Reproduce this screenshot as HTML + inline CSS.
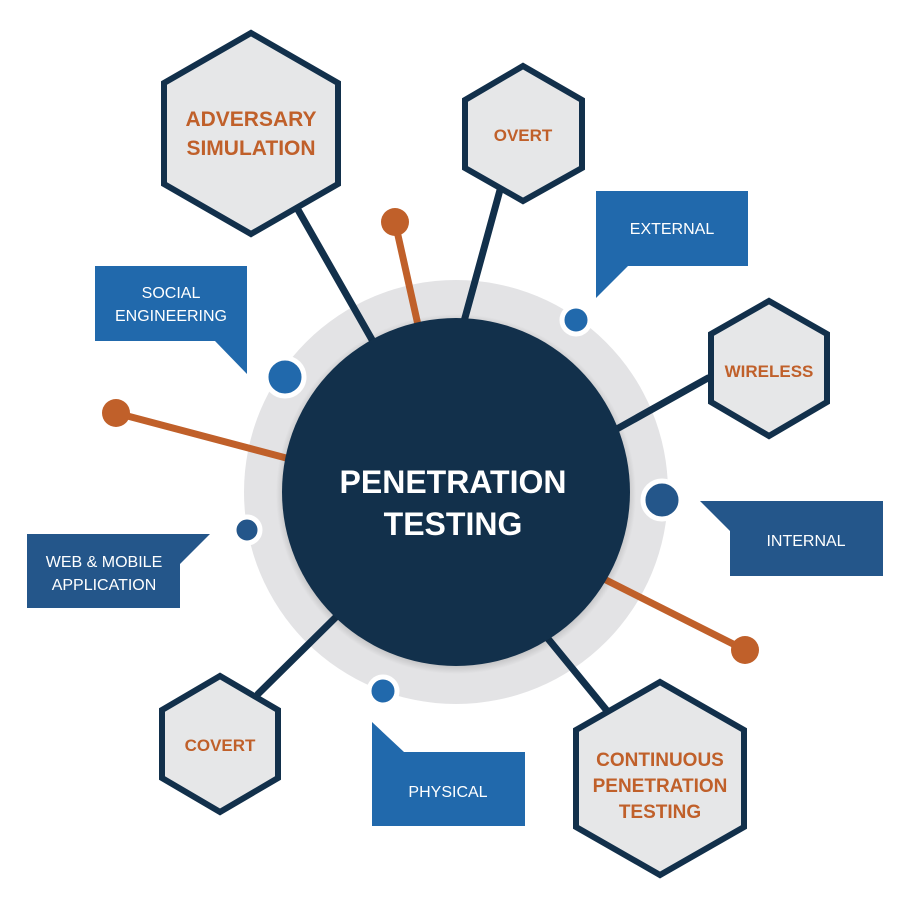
<!DOCTYPE html>
<html><head><meta charset="utf-8"><style>
html,body{margin:0;padding:0;background:#fff}
svg text{font-family:"Liberation Sans",sans-serif}
</style></head><body>
<svg width="919" height="900" viewBox="0 0 919 900" xmlns="http://www.w3.org/2000/svg">
<defs>
<radialGradient id="sh" cx="50%" cy="50%" r="50%">
<stop offset="88%" stop-color="#000" stop-opacity="0.35"/><stop offset="100%" stop-color="#000" stop-opacity="0"/>
</radialGradient>
</defs>
<!-- ring -->
<circle cx="456" cy="492" r="212" fill="#e3e3e5"/>
<!-- connectors -->
<g stroke="#12304b" stroke-width="7" stroke-linecap="round">
<line x1="297" y1="208" x2="375" y2="345"/>
<line x1="500" y1="190" x2="463" y2="325"/>
<line x1="708" y1="378" x2="615" y2="430"/>
<line x1="608" y1="712" x2="545" y2="635"/>
<line x1="258" y1="694" x2="336" y2="617"/>
</g>
<g stroke="#c0602a" stroke-width="7">
<line x1="395" y1="222" x2="418" y2="325"/>
<line x1="116" y1="413" x2="290" y2="459"/>
<line x1="745" y1="650" x2="602" y2="578"/>
</g>
<g fill="#c0602a">
<circle cx="395" cy="222" r="14"/><circle cx="116" cy="413" r="14"/><circle cx="745" cy="650" r="14"/>
</g>
<circle cx="456" cy="494" r="180" fill="url(#sh)"/>
<circle cx="456" cy="492" r="174" fill="#12304b"/>
<text x="453" y="493" fill="#fff" font-size="32" font-weight="bold" text-anchor="middle">PENETRATION</text>
<text x="453" y="535" fill="#fff" font-size="32" font-weight="bold" text-anchor="middle">TESTING</text>
<!-- dots -->
<g stroke="#fff" stroke-width="5">
<circle cx="576" cy="320" r="14" fill="#2169ac"/>
<circle cx="285" cy="377" r="19" fill="#2169ac"/>
<circle cx="662" cy="500" r="19" fill="#24568a"/>
<circle cx="247" cy="530" r="13" fill="#24568a"/>
<circle cx="383" cy="691" r="14" fill="#2169ac"/>
</g>
<!-- hexagons -->
<g fill="#e6e7e8" stroke="#12304b" stroke-width="6" stroke-linejoin="miter">
<polygon points="251,33 338,83 338,184 251,234 164,184 164,83"/>
<polygon points="523,66 582,100 582,168 523,201 465,168 465,100"/>
<polygon points="769,301 827,334 827,402 769,436 711,402 711,334"/>
<polygon points="220,676 278,710 278,778 220,812 162,778 162,710"/>
<polygon points="660,682 744,730 744,827 660,875 576,827 576,730"/>
</g>
<g fill="#c0602a" font-weight="bold" text-anchor="middle">
<text x="251" y="126" font-size="21">ADVERSARY</text>
<text x="251" y="155" font-size="21">SIMULATION</text>
<text x="523" y="141" font-size="17">OVERT</text>
<text x="769" y="377" font-size="17">WIRELESS</text>
<text x="220" y="751" font-size="17">COVERT</text>
<text x="660" y="766" font-size="19">CONTINUOUS</text>
<text x="660" y="792" font-size="19">PENETRATION</text>
<text x="660" y="818" font-size="19">TESTING</text>
</g>
<!-- callouts -->
<g fill="#2169ac">
<rect x="596" y="191" width="152" height="75"/><polygon points="596,266 628,266 596,298"/>
<rect x="95" y="266" width="152" height="75"/><polygon points="215,341 247,341 247,374"/>
<rect x="372" y="752" width="153" height="74"/><polygon points="372,722 372,752 404,752"/>
</g>
<g fill="#24568a">
<rect x="730" y="501" width="153" height="75"/><polygon points="700,501 730,501 730,531"/>
<rect x="27" y="534" width="153" height="74"/><polygon points="180,534 210,534 180,564"/>
</g>
<g fill="#fff" font-size="16" text-anchor="middle">
<text x="672" y="234">EXTERNAL</text>
<text x="171" y="298">SOCIAL</text>
<text x="171" y="321">ENGINEERING</text>
<text x="806" y="546">INTERNAL</text>
<text x="104" y="567">WEB &amp; MOBILE</text>
<text x="104" y="590">APPLICATION</text>
<text x="448" y="797">PHYSICAL</text>
</g>
</svg>
</body></html>
